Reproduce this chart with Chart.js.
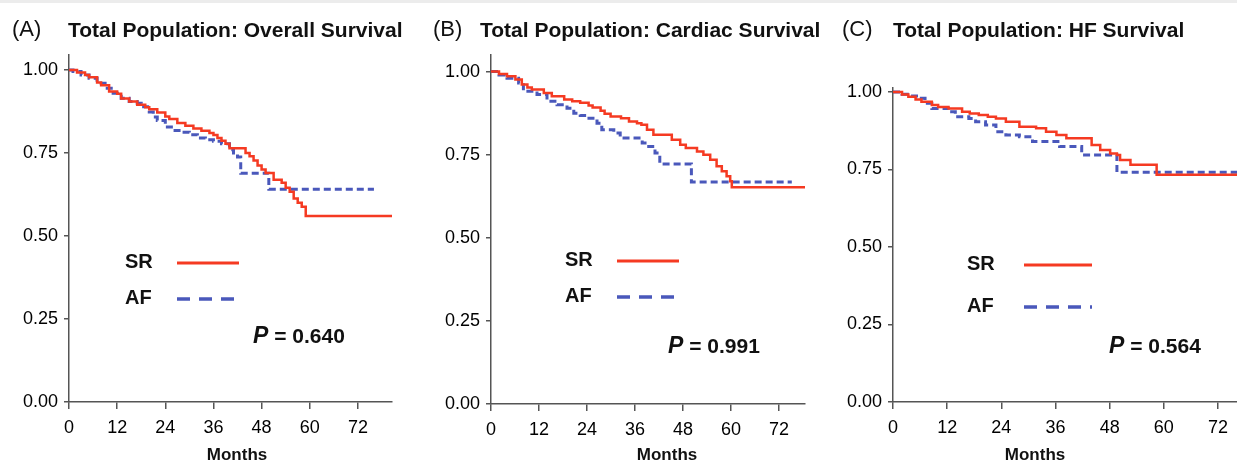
<!DOCTYPE html>
<html>
<head>
<meta charset="utf-8">
<title>Total Population survival</title>
<script src="https://cdn.jsdelivr.net/npm/chart.js@4.4.1/dist/chart.umd.min.js"></script>
<style>
  html, body { margin: 0; padding: 0; background: #fff; }
  body { width: 1237px; height: 465px; position: relative; overflow: hidden; }
  .topband { position: absolute; left: 0; top: 0; width: 1237px; height: 3px; background: #ececec; }
  canvas { position: absolute; top: 0; }
</style>
</head>
<body>
<div class="topband"></div>
<canvas id="chartA" width="415" height="465" style="left:0px"></canvas>
<canvas id="chartB" width="415" height="465" style="left:415px"></canvas>
<canvas id="chartC" width="407" height="465" style="left:830px"></canvas>

<script>
// axis ticks
const monthTicks = [0, 12, 24, 36, 48, 60, 72];
const survTicks = [0, 0.25, 0.5, 0.75, 1];
const groupNames = ['SR', 'AF'];

// (A) overall survival
const monthsSrA = [0, 2, 4, 5, 7, 8, 10, 12, 13, 15, 17, 19, 20, 22, 24, 25, 27, 29, 31, 33, 35, 36, 37, 38, 39, 40, 44, 45, 46, 47, 48, 49, 51, 53, 54, 55, 56, 57, 58, 59, 80.5];
const survSrA = [1.0, 0.992, 0.985, 0.978, 0.962, 0.954, 0.935, 0.928, 0.914, 0.905, 0.895, 0.888, 0.882, 0.872, 0.860, 0.852, 0.840, 0.832, 0.824, 0.817, 0.810, 0.804, 0.795, 0.787, 0.778, 0.764, 0.750, 0.740, 0.727, 0.712, 0.700, 0.690, 0.669, 0.660, 0.645, 0.633, 0.613, 0.600, 0.588, 0.560, 0.560];
const monthsAfA = [0, 1, 3, 5, 7, 9, 11, 13, 15, 17, 18, 20, 21, 22, 24, 26, 28, 30, 32, 34, 36, 38, 40, 41, 42, 42.8, 49.8, 76];
const survAfA = [1.0, 0.995, 0.985, 0.975, 0.96, 0.945, 0.93, 0.915, 0.905, 0.9, 0.889, 0.873, 0.858, 0.848, 0.828, 0.818, 0.812, 0.805, 0.795, 0.79, 0.785, 0.778, 0.76, 0.75, 0.738, 0.689, 0.641, 0.641];

// (B) cardiac survival
const monthsSrB = [0, 2, 4, 6.1, 7.7, 9.1, 10.2, 13.2, 15.2, 18.3, 20.3, 22.3, 24.4, 25.4, 27.4, 28.4, 29.9, 32.5, 34.5, 36.5, 37.6, 39, 40.6, 45.2, 47.3, 48.7, 51.5, 53.1, 54.8, 56.4, 57.7, 58.9, 59.8, 60.2, 78.5];
const survSrB = [1.0, 0.993, 0.986, 0.976, 0.961, 0.952, 0.946, 0.936, 0.926, 0.916, 0.911, 0.906, 0.898, 0.892, 0.882, 0.873, 0.865, 0.86, 0.85, 0.845, 0.84, 0.825, 0.81, 0.795, 0.78, 0.77, 0.76, 0.75, 0.735, 0.715, 0.70, 0.685, 0.67, 0.652, 0.652];
const monthsAfB = [0, 2, 4, 6.9, 8.1, 11.5, 14, 16.5, 19, 20.7, 22.3, 24, 26.5, 27.7, 30.7, 32.3, 37.8, 38.9, 41, 42.2, 50.1, 75.2];
const survAfB = [1.0, 0.99, 0.98, 0.966, 0.941, 0.931, 0.911, 0.9, 0.89, 0.875, 0.868, 0.86, 0.845, 0.825, 0.815, 0.80, 0.785, 0.775, 0.755, 0.722, 0.668, 0.668];

// (C) HF survival
const monthsSrC = [0, 2, 3.4, 5, 6.3, 8.6, 10, 12.3, 15.3, 17, 19, 21, 22.8, 25, 28, 31.7, 33.9, 36.2, 38.4, 44, 45.9, 48.1, 49.6, 50.3, 52.6, 58.4, 76.2];
const survSrC = [1.0, 0.992, 0.985, 0.976, 0.969, 0.958, 0.952, 0.947, 0.936, 0.931, 0.926, 0.92, 0.915, 0.904, 0.888, 0.883, 0.872, 0.861, 0.851, 0.829, 0.813, 0.802, 0.797, 0.781, 0.765, 0.733, 0.733];
const monthsAfC = [0, 2, 4, 5.6, 7.1, 8.6, 12.3, 13.8, 16.8, 18.3, 20.5, 22.8, 25, 28, 30.9, 36.9, 41.8, 49.6, 76.2];
const survAfC = [1.0, 0.993, 0.987, 0.98, 0.964, 0.947, 0.936, 0.92, 0.915, 0.904, 0.894, 0.872, 0.861, 0.856, 0.84, 0.824, 0.797, 0.741, 0.741];

const panelLetters = ['(A)', '(B)', '(C)'];
const panelTitles = ['Total Population: Overall Survival', 'Total Population: Cardiac Survival', 'Total Population: HF Survival'];
const pValues = ['0.640', '0.991', '0.564'];

const FONT = "'Liberation Sans', Arial, Helvetica, sans-serif";
const RED = '#f53a22';
const BLUE = '#4a58bb';
const AXIS = '#555';

// where things sit on the page (px)
const panels = [
    { id: 'chartA', left: 0, width: 415, area: { left: 69, right: 392, top: 55, bottom: 402 }, xMax: 80.5, yMax: 1.045,
      letterX: 12, titleX: 68, legendX: 125, lineX: [177, 239], legendY: [262, 298], pX: 253, pY: 337, monthsX: 237,
      sr: [monthsSrA, survSrA], af: [monthsAfA, survAfA] },
    { id: 'chartB', left: 415, width: 415, area: { left: 491, right: 805, top: 55, bottom: 404 }, xMax: 78.5, yMax: 1.05,
      letterX: 433, titleX: 480, legendX: 565, lineX: [617, 679], legendY: [260, 296], pX: 668, pY: 347, monthsX: 667,
      sr: [monthsSrB, survSrB], af: [monthsAfB, survAfB] },
    { id: 'chartC', left: 830, width: 407, area: { left: 893, right: 1237, top: 88, bottom: 402 }, xMax: 76.2, yMax: 1.013,
      letterX: 842, titleX: 893, legendX: 967, lineX: [1024, 1092], legendY: [264, 306], pX: 1109, pY: 347, monthsX: 1035,
      sr: [monthsSrC, survSrC], af: [monthsAfC, survAfC] }
];

function toPoints(months, surv) {
    return months.map(function (m, i) { return { x: m, y: surv[i] }; });
}

// titles, legend, P value and axis title drawn on top
const overlayPlugin = {
    id: 'overlay',
    afterDraw: function (chart, args, o) {
        const ctx = chart.ctx;
        const ox = o.panel.left;
        ctx.save();
        ctx.textBaseline = 'middle';
        ctx.fillStyle = '#111';

        ctx.font = '22px ' + FONT;
        ctx.fillText(o.letter, o.panel.letterX - ox, 30);
        ctx.font = 'bold 21px ' + FONT;
        ctx.fillText(o.title, o.panel.titleX - ox, 31);

        // legend: label then line sample
        const styles = [
            { color: RED, dash: [], width: 3 },
            { color: BLUE, dash: [13, 9], width: 3.5 }
        ];
        for (let i = 0; i < groupNames.length; i++) {
            const y = o.panel.legendY[i];
            ctx.font = 'bold 20px ' + FONT;
            ctx.fillStyle = '#111';
            ctx.fillText(groupNames[i], o.panel.legendX - ox, y);
            ctx.beginPath();
            ctx.setLineDash(styles[i].dash);
            ctx.strokeStyle = styles[i].color;
            ctx.lineWidth = styles[i].width;
            ctx.moveTo(o.panel.lineX[0] - ox, y + 1);
            ctx.lineTo(o.panel.lineX[1] - ox, y + 1);
            ctx.stroke();
        }
        ctx.setLineDash([]);

        // P value
        ctx.fillStyle = '#111';
        ctx.font = 'italic bold 23px ' + FONT;
        ctx.fillText('P', o.panel.pX - ox, o.panel.pY);
        const pw = ctx.measureText('P').width;
        ctx.font = 'bold 21px ' + FONT;
        ctx.fillText(' = ' + o.p, o.panel.pX - ox + pw, o.panel.pY);

        // x axis title
        ctx.font = 'bold 17px ' + FONT;
        ctx.textAlign = 'center';
        ctx.fillText('Months', o.panel.monthsX - ox, 455);
        ctx.restore();
    }
};

panels.forEach(function (p, k) {
    const ctx = document.getElementById(p.id).getContext('2d');
    new Chart(ctx, {
        type: 'line',
        data: {
            datasets: [{
                label: groupNames[0],
                data: toPoints(p.sr[0], p.sr[1]),
                borderColor: RED,
                borderWidth: 2.5,
                stepped: 'before',
                pointRadius: 0,
                fill: false
            }, {
                label: groupNames[1],
                data: toPoints(p.af[0], p.af[1]),
                borderColor: BLUE,
                borderWidth: 3,
                borderDash: [7, 4],
                stepped: 'before',
                pointRadius: 0,
                fill: false
            }]
        },
        options: {
            responsive: false,
            animation: false,
            devicePixelRatio: 1,
            layout: {
                padding: { left: 0, right: p.left + p.width - p.area.right, top: p.area.top, bottom: 0 }
            },
            plugins: {
                legend: { display: false },
                tooltip: { enabled: false },
                overlay: { panel: p, letter: panelLetters[k], title: panelTitles[k], p: pValues[k] }
            },
            scales: {
                x: {
                    type: 'linear',
                    min: 0,
                    max: p.xMax,
                    afterBuildTicks: function (s) { s.ticks = monthTicks.map(function (v) { return { value: v }; }); },
                    afterFit: function (s) { s.height = 465 - p.area.bottom; s.paddingLeft = 0; s.paddingRight = 0; },
                    border: { display: true, color: AXIS, width: 1.5 },
                    grid: { drawOnChartArea: false, drawTicks: true, tickLength: 7, color: AXIS, lineWidth: 1.5 },
                    ticks: { color: '#000', font: { size: 18, family: FONT }, padding: 8, maxRotation: 0, autoSkip: false }
                },
                y: {
                    type: 'linear',
                    min: 0,
                    max: p.yMax,
                    afterBuildTicks: function (s) { s.ticks = survTicks.map(function (v) { return { value: v }; }); },
                    afterFit: function (s) { s.width = p.area.left - p.left; s.paddingTop = 0; s.paddingBottom = 0; },
                    border: { display: true, color: AXIS, width: 1.5 },
                    grid: { drawOnChartArea: false, drawTicks: true, tickLength: 5, color: AXIS, lineWidth: 1.5 },
                    ticks: {
                        color: '#000', font: { size: 18, family: FONT }, padding: 6,
                        callback: function (v) { return Number(v).toFixed(2); }
                    }
                }
            }
        },
        plugins: [overlayPlugin]
    });
});
</script>
</body>
</html>
